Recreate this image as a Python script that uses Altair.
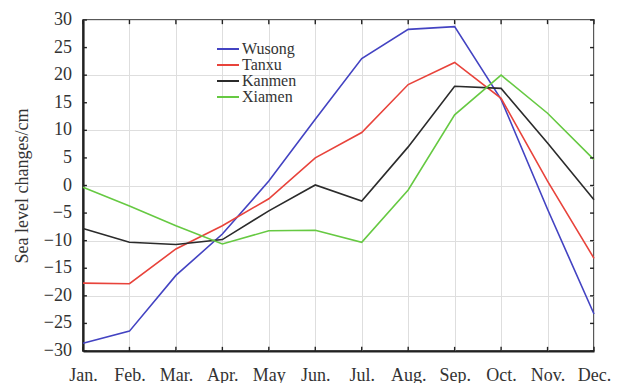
import altair as alt
import pandas as pd

months = ["Jan.", "Feb.", "Mar.", "Apr.", "May", "Jun.",
          "Jul.", "Aug.", "Sep.", "Oct.", "Nov.", "Dec."]
stations = ["Wusong", "Tanxu", "Kanmen", "Xiamen"]
colors = ["#4343c2", "#e8433b", "#2b2b2b", "#66c942"]

# Monthly mean sea level anomaly (cm)
wusong = [-28.6, -26.4, -16.3, -8.8, 0.8, 12.0, 23.0, 28.3, 28.8, 15.6, -4.3, -23.3]
tanxu = [-17.7, -17.8, -11.5, -7.3, -2.4, 5.0, 9.6, 18.3, 22.3, 15.8, 0.8, -13.2]
kanmen = [-7.8, -10.3, -10.7, -9.8, -4.6, 0.1, -2.8, 7.0, 18.0, 17.6, 7.7, -2.6]
xiamen = [-0.3, -3.7, -7.3, -10.6, -8.2, -8.1, -10.3, -0.8, 12.8, 20.0, 13.1, 4.7]

y_ticks = list(range(-30, 31, 5))
y_labels = [str(v).replace("-", "\u2212") for v in y_ticks]

rows = []
for name, vals in zip(stations, [wusong, tanxu, kanmen, xiamen]):
    for i, v in enumerate(vals):
        rows.append({"station": name, "m": i, "month": months[i], "value": v})
df = pd.DataFrame(rows)

month_expr = "[" + ",".join(f"'{m}'" for m in months) + "][datum.value]"

x_scale = alt.Scale(domain=[0, 11], nice=False, zero=False)
y_scale = alt.Scale(domain=[-30, 30], nice=False)
font = "Liberation Serif"

x_axis = alt.Axis(values=list(range(12)), labelExpr=month_expr,
                  ticks=False, labelPadding=15, grid=True,
                  labelOverlap=False, labelFlush=False)
# y tick labels are drawn by a text layer so that every 5 cm step is labelled
y_axis = alt.Axis(values=y_ticks, ticks=False, labels=False,
                  titlePadding=52, grid=True)
y_title = "Sea level changes/cm"

lines = alt.Chart(df).mark_line(strokeWidth=1.6).encode(
    x=alt.X("m:Q", scale=x_scale, title=None, axis=x_axis),
    y=alt.Y("value:Q", scale=y_scale, title=y_title, axis=y_axis),
    color=alt.Color("station:N",
                    scale=alt.Scale(domain=stations, range=colors),
                    legend=alt.Legend(title=None, orient="none",
                                      legendX=133, legendY=21,
                                      symbolType="stroke", symbolSize=484,
                                      symbolStrokeWidth=2, clipHeight=16,
                                      labelFont=font, labelFontSize=16,
                                      labelColor="#333", rowPadding=0,
                                      labelOffset=2)),
)

# Inward tick marks on all four sides
tick_x = pd.DataFrame({"m": list(range(12))})
tick_y = pd.DataFrame({"v": y_ticks, "label": y_labels})
tick_style = dict(color="#222", strokeWidth=1.4)

bottom_ticks = alt.Chart(tick_x).mark_rule(**tick_style).encode(
    x=alt.X("m:Q", scale=x_scale, title=None, axis=x_axis),
    y=alt.datum(-30), y2=alt.datum(-29.25))
top_ticks = alt.Chart(tick_x).mark_rule(**tick_style).encode(
    x=alt.X("m:Q", scale=x_scale, title=None, axis=x_axis),
    y=alt.datum(30), y2=alt.datum(29.25))
left_ticks = alt.Chart(tick_y).mark_rule(**tick_style).encode(
    y=alt.Y("v:Q", scale=y_scale, title=y_title, axis=y_axis),
    x=alt.datum(0), x2=alt.datum(0.085))
right_ticks = alt.Chart(tick_y).mark_rule(**tick_style).encode(
    y=alt.Y("v:Q", scale=y_scale, title=y_title, axis=y_axis),
    x=alt.datum(11), x2=alt.datum(10.915))

y_tick_labels = alt.Chart(tick_y).mark_text(
    align="right", baseline="middle", dx=-11,
    font=font, fontSize=18, color="#333",
).encode(
    y=alt.Y("v:Q", scale=y_scale, title=y_title, axis=y_axis),
    x=alt.datum(0),
    text="label:N",
)

chart = alt.layer(lines, bottom_ticks, top_ticks, left_ticks, right_ticks,
                  y_tick_labels).properties(
    width=511, height=331,
    autosize=alt.AutoSizeParams(type="none"),
    padding={"left": 83, "top": 20, "right": 26, "bottom": 32},
).configure_view(
    stroke="#222", strokeWidth=1.5
).configure_axis(
    labelFont=font, labelFontSize=18, labelColor="#333",
    titleFont=font, titleFontSize=18, titleColor="#333", titleFontWeight="normal",
    domainColor="#222", domainWidth=2.2,
    gridColor="#dedede", gridWidth=1,
)

chart.save("out.html", embed_options={"renderer": "svg", "actions": False})
